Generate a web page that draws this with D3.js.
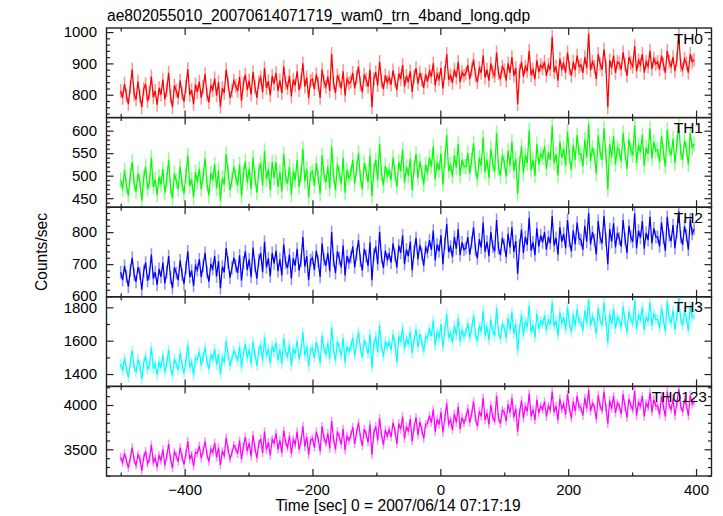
<!DOCTYPE html>
<html><head><meta charset="utf-8">
<script src="https://cdn.jsdelivr.net/npm/d3@7"></script>
<style>html,body{margin:0;padding:0;background:#fff}</style>
</head><body>
<svg id="c" width="723" height="516"></svg>
<script>
const titleText = "ae802055010_20070614071719_wam0_trn_4band_long.qdp";
const xLabel = "Time [sec] 0 = 2007/06/14 07:17:19";
const yLabel = "Counts/sec";
const panelNames = ["TH0","TH1","TH2","TH3","TH0123"];
const colors = ["#ff0000","#00ff00","#0000ff","#00ffff","#ff00ff"];
const tStart = -500, tStep = 3;
const xTicksMajor = [-400,-200,0,200,400];
const xTicksMinor = [-500,-300,-100,100,300];
const errors = [22,17,20,30,48];
const yDomains = [[727,1013],[430,629],[598,878],[1326,1863],[3199,4210]];
const yMajorLabels = [[800,900,1000],[450,500,550,600],[600,700,800],[1400,1600,1800],[3500,4000]];
const yMajorStep = [100,50,100,200,500];
const yMinorStep = [20,10,20,100,100];

const th0 = [812,790,835,798,770,825,880,801,785,842,796,760,818,834,779,805,858,792,812,768,
822,800,848,785,815,870,795,760,830,812,790,845,805,778,826,882,799,815,770,833,
808,842,790,825,866,800,776,830,815,852,797,840,762,821,806,880,835,790,812,845,
828,812,857,780,836,864,815,845,800,872,826,790,840,855,808,885,822,843,798,860,
835,870,812,846,805,890,838,822,860,795,848,830,875,815,842,900,826,855,790,845,
850,818,865,835,790,880,842,825,858,812,930,838,805,862,845,820,875,798,850,836,
842,870,820,855,890,835,808,865,848,825,880,760,850,872,830,905,845,818,862,840,
855,832,878,845,815,868,850,895,826,860,840,875,810,858,885,835,870,848,822,865,
842,875,858,900,830,866,850,885,820,870,930,848,862,838,880,855,905,840,872,860,
868,895,850,880,912,862,840,885,870,925,855,880,845,900,872,860,935,868,850,890,
878,845,900,870,920,860,885,770,875,905,858,890,875,940,862,880,850,910,872,895,
885,905,860,895,880,985,872,890,845,915,882,900,870,935,885,860,905,878,925,890,
895,870,920,885,995,878,905,890,850,930,898,880,945,892,760,910,885,925,870,905,
900,880,935,895,860,920,902,890,955,875,910,895,930,870,905,890,940,882,915,898,
905,880,925,898,870,940,905,890,920,875,912,990,895,880,915,900,870,930,905,912];

const th1 = [490,470,512,478,455,500,530,482,465,505,488,445,495,520,470,486,540,475,492,458,
498,480,515,462,490,535,475,450,505,488,470,520,482,460,500,545,478,492,452,508,
485,515,470,500,538,482,456,505,490,525,472,512,445,495,480,548,508,468,490,520,
498,478,525,455,505,532,485,515,470,540,495,462,510,528,478,555,492,515,468,530,
495,530,475,508,465,548,498,482,520,458,510,490,535,475,502,560,488,515,452,505,
510,478,528,498,460,545,502,485,520,472,565,500,468,525,505,482,540,462,512,495,
505,535,482,515,550,495,470,528,508,485,545,455,512,535,490,570,505,478,522,500,
512,490,540,505,475,530,510,558,485,520,500,538,468,518,548,495,532,508,480,525,
505,540,520,565,492,530,512,550,480,535,590,510,525,498,545,518,570,500,535,520,
520,550,505,535,572,515,492,540,522,585,508,535,495,560,525,510,595,518,500,545,
530,498,555,522,575,510,538,460,528,565,505,545,528,600,512,535,500,570,525,548,
540,565,515,552,535,610,528,548,500,575,540,560,522,598,542,512,568,535,590,548,
548,520,580,540,615,532,562,545,505,590,552,535,605,548,470,570,540,588,525,562,
555,532,595,550,515,580,558,545,612,528,568,552,590,522,562,548,605,538,575,555,
558,530,588,552,520,602,560,545,582,528,570,615,552,535,578,560,525,595,562,570];

const th2 = [675,650,695,662,630,680,720,668,645,690,672,620,678,705,648,670,730,655,675,635,
685,660,705,640,675,725,658,625,690,672,650,712,668,638,688,740,660,680,632,695,
682,715,660,695,735,675,645,700,685,725,662,710,625,692,675,750,705,658,688,720,
695,672,728,648,705,740,682,715,660,752,695,655,712,735,675,770,690,718,662,735,
702,742,678,715,665,762,705,688,730,655,718,695,748,680,710,785,692,725,650,712,
720,682,742,708,660,765,715,695,735,678,800,712,672,740,718,690,758,665,725,705,
722,755,690,732,775,712,680,748,725,695,768,650,730,755,700,800,722,688,742,715,
732,705,765,728,690,758,735,790,700,745,725,770,680,740,782,715,760,732,695,752,
738,775,745,805,712,762,740,790,700,765,825,738,755,722,785,748,810,728,768,745,
750,785,730,768,815,745,718,778,752,830,738,770,725,800,755,740,838,750,728,782,
760,722,795,752,815,738,772,670,758,808,735,785,760,845,742,768,728,812,755,790,
768,800,745,785,765,850,758,782,730,815,770,795,750,838,772,740,805,762,830,780,
775,745,820,770,860,762,800,775,730,835,782,765,850,778,700,810,770,828,752,798,
780,755,838,778,735,820,785,770,858,750,805,782,835,748,798,775,848,765,812,785,
785,755,830,782,742,848,790,772,822,750,800,865,785,760,818,790,745,840,795,810];

const th3 = [1460,1420,1495,1435,1380,1470,1540,1445,1410,1488,1452,1370,1465,1510,1425,1455,1560,1430,1462,1395,
1475,1438,1515,1410,1465,1545,1442,1390,1490,1460,1425,1528,1455,1405,1480,1575,1440,1470,1395,1495,
1488,1535,1450,1502,1560,1475,1430,1512,1490,1550,1455,1520,1400,1498,1470,1600,1515,1448,1492,1540,
1515,1478,1565,1440,1525,1580,1495,1548,1460,1595,1518,1450,1540,1575,1480,1620,1505,1552,1465,1570,
1530,1590,1485,1548,1460,1615,1535,1505,1575,1450,1552,1520,1600,1490,1540,1650,1510,1565,1445,1545,
1555,1495,1592,1540,1465,1630,1552,1520,1585,1490,1680,1548,1480,1595,1558,1510,1615,1470,1565,1535,
1565,1620,1510,1582,1650,1555,1500,1605,1570,1520,1640,1440,1578,1625,1530,1690,1568,1505,1598,1560,
1592,1545,1640,1585,1470,1625,1598,1680,1550,1612,1580,1655,1525,1605,1670,1560,1640,1592,1535,1625,
1615,1675,1628,1720,1570,1650,1620,1700,1560,1662,1760,1618,1645,1590,1690,1632,1735,1595,1668,1625,
1650,1705,1615,1672,1750,1640,1595,1690,1655,1780,1630,1682,1605,1725,1660,1628,1795,1652,1610,1698,
1678,1615,1735,1668,1770,1640,1700,1540,1675,1755,1632,1715,1680,1810,1650,1695,1620,1762,1672,1720,
1698,1752,1660,1725,1695,1830,1685,1722,1630,1770,1702,1740,1665,1800,1705,1650,1758,1690,1790,1715,
1712,1660,1780,1705,1845,1690,1745,1712,1640,1795,1720,1695,1825,1715,1590,1762,1700,1790,1672,1740,
1722,1680,1805,1718,1650,1775,1728,1705,1840,1670,1752,1725,1800,1665,1742,1715,1830,1690,1765,1728,
1728,1675,1795,1725,1655,1835,1735,1708,1780,1665,1748,1860,1728,1690,1775,1735,1662,1810,1740,1752];

const th0123 = [3410,3350,3455,3370,3290,3400,3520,3380,3320,3440,3395,3260,3405,3480,3340,3390,3550,3355,3400,3300,
3430,3375,3500,3320,3420,3560,3390,3290,3470,3425,3360,3520,3415,3330,3450,3590,3385,3440,3310,3465,
3455,3540,3400,3480,3590,3440,3360,3500,3465,3570,3410,3520,3320,3475,3430,3630,3500,3395,3460,3545,
3510,3450,3600,3390,3530,3640,3480,3570,3420,3660,3515,3400,3560,3620,3460,3700,3495,3580,3430,3610,
3570,3680,3500,3600,3460,3710,3580,3520,3650,3450,3610,3555,3700,3500,3590,3760,3530,3640,3440,3600,
3625,3520,3700,3610,3480,3760,3630,3570,3680,3510,3820,3615,3500,3700,3640,3555,3730,3490,3650,3600,
3660,3750,3560,3690,3800,3640,3540,3730,3670,3580,3780,3440,3680,3760,3600,3850,3665,3550,3720,3650,
3720,3640,3800,3710,3560,3790,3725,3870,3620,3760,3700,3840,3590,3750,3860,3660,3810,3720,3620,3780,
3790,3880,3800,3950,3700,3840,3780,3920,3690,3850,4020,3785,3830,3720,3900,3800,3980,3730,3860,3795,
3860,3960,3800,3900,4040,3850,3760,3930,3870,4080,3830,3910,3780,4000,3865,3820,4100,3860,3790,3940,
3920,3820,4010,3910,4080,3860,3960,3700,3915,4050,3850,3990,3925,4130,3870,3950,3830,4060,3910,3990,
3950,4040,3870,3990,3945,4150,3920,3990,3830,4070,3955,4010,3890,4120,3960,3850,4040,3930,4100,3980,
3970,3880,4080,3960,4170,3930,4020,3975,3840,4110,3985,3940,4150,3975,3790,4050,3960,4100,3910,4020,
3985,3900,4120,3980,3860,4070,3995,3950,4160,3880,4030,3990,4100,3870,4020,3975,4140,3920,4060,3990,
3990,3890,4100,3985,3870,4150,4000,3950,4070,3880,4020,4180,3990,3920,4060,4000,3880,4110,4010,4030];

const seriesValues = [th0, th1, th2, th3, th0123];

const FONT = "'Liberation Sans', Arial, Helvetica, sans-serif";
const svg = d3.select("#c");
const pL = 106.5, pR = 711.5, pT = 28, panelH = 89.6;
const x = d3.scaleLinear().domain([-522.2, 424.2]).range([pL, pR]);

function rangeStep(lo, hi, step) {
  const out = [];
  for (let v = Math.ceil(lo / step) * step; v <= hi + 1e-9; v += step) out.push(v);
  return out;
}

seriesValues.forEach((vals, p) => {
  const y0 = pT + p * panelH, y1 = y0 + panelH;
  const y = d3.scaleLinear().domain(yDomains[p]).range([y1, y0]);
  const g = svg.append("g");
  const cid = "clip" + p;
  svg.append("clipPath").attr("id", cid).append("rect")
    .attr("x", pL).attr("y", y0).attr("width", pR - pL).attr("height", panelH);
  const data = vals.map((v, i) => ({t: tStart + i * tStep, v}));
  const dg = g.append("g").attr("clip-path", `url(#${cid})`);
  const err = errors[p];
  dg.append("path")
    .attr("d", data.map(d => `M${x(d.t)},${y(d.v - err)}V${y(d.v + err)}`).join(""))
    .attr("stroke", colors[p]).attr("stroke-opacity", 0.42).attr("stroke-width", 1.6).attr("fill", "none");
  dg.append("path")
    .attr("d", d3.line().x(d => x(d.t)).y(d => y(d.v))(data))
    .attr("stroke", colors[p]).attr("stroke-width", 1.25).attr("fill", "none");

  const dom = yDomains[p];
  const majors = rangeStep(dom[0], dom[1], yMajorStep[p]);
  const minors = rangeStep(dom[0], dom[1], yMinorStep[p]).filter(v => !majors.includes(v));
  const styleAxis = sel => {
    sel.select(".domain").remove();
    sel.selectAll("line").attr("stroke", "#222").attr("stroke-width", 1.2);
    sel.selectAll("text").attr("font-family", FONT).attr("font-size", 15).attr("fill", "#000");
  };
  g.append("g").attr("transform", `translate(${pL},0)`)
    .call(d3.axisLeft(y).tickValues(majors).tickSizeInner(-7).tickSizeOuter(0).tickPadding(9.5)
      .tickFormat(v => yMajorLabels[p].includes(v) ? String(v) : ""))
    .call(styleAxis);
  g.append("g").attr("transform", `translate(${pL},0)`)
    .call(d3.axisLeft(y).tickValues(minors).tickSizeInner(-3.5).tickSizeOuter(0).tickFormat(""))
    .call(styleAxis);
  g.append("g").attr("transform", `translate(${pR},0)`)
    .call(d3.axisRight(y).tickValues(majors).tickSizeInner(-7).tickSizeOuter(0).tickFormat(""))
    .call(styleAxis);
  g.append("g").attr("transform", `translate(${pR},0)`)
    .call(d3.axisRight(y).tickValues(minors).tickSizeInner(-3.5).tickSizeOuter(0).tickFormat(""))
    .call(styleAxis);
  g.append("g").attr("transform", `translate(0,${y0})`)
    .call(d3.axisTop(x).tickValues(xTicksMajor).tickSizeInner(-7).tickSizeOuter(0).tickFormat(""))
    .call(styleAxis);
  g.append("g").attr("transform", `translate(0,${y0})`)
    .call(d3.axisTop(x).tickValues(xTicksMinor).tickSizeInner(-3.5).tickSizeOuter(0).tickFormat(""))
    .call(styleAxis);
  const isLast = p === seriesValues.length - 1;
  g.append("g").attr("transform", `translate(0,${y1})`)
    .call(d3.axisBottom(x).tickValues(xTicksMajor).tickSizeInner(-7).tickSizeOuter(0).tickPadding(8)
      .tickFormat(isLast ? d3.format("") : ""))
    .call(styleAxis);
  g.append("g").attr("transform", `translate(0,${y1})`)
    .call(d3.axisBottom(x).tickValues(xTicksMinor).tickSizeInner(-3.5).tickSizeOuter(0).tickFormat(""))
    .call(styleAxis);
  g.selectAll("text").filter(function(){ return this.textContent === ""; }).remove();

  g.append("rect").attr("x", pL).attr("y", y0).attr("width", pR - pL).attr("height", panelH)
    .attr("fill", "none").attr("stroke", "#222").attr("stroke-width", 1.4);

  g.append("text").attr("x", isLast ? 707 : 703).attr("y", y0 + 15.5).attr("text-anchor", "end")
    .attr("font-family", FONT).attr("font-size", 15.5).attr("fill", "#000").text(panelNames[p]);
});

svg.append("text").attr("x", 107).attr("y", 21).attr("font-family", FONT).attr("font-size", 15.6)
  .attr("fill", "#000").text(titleText);
svg.append("text").attr("x", 398).attr("y", 511).attr("text-anchor", "middle")
  .attr("font-family", FONT).attr("font-size", 15.6).attr("fill", "#000").text(xLabel);
svg.append("text").attr("transform", "translate(47,252) rotate(-90)").attr("text-anchor", "middle")
  .attr("font-family", FONT).attr("font-size", 15.6).attr("fill", "#000").text(yLabel);
</script>
</body></html>
